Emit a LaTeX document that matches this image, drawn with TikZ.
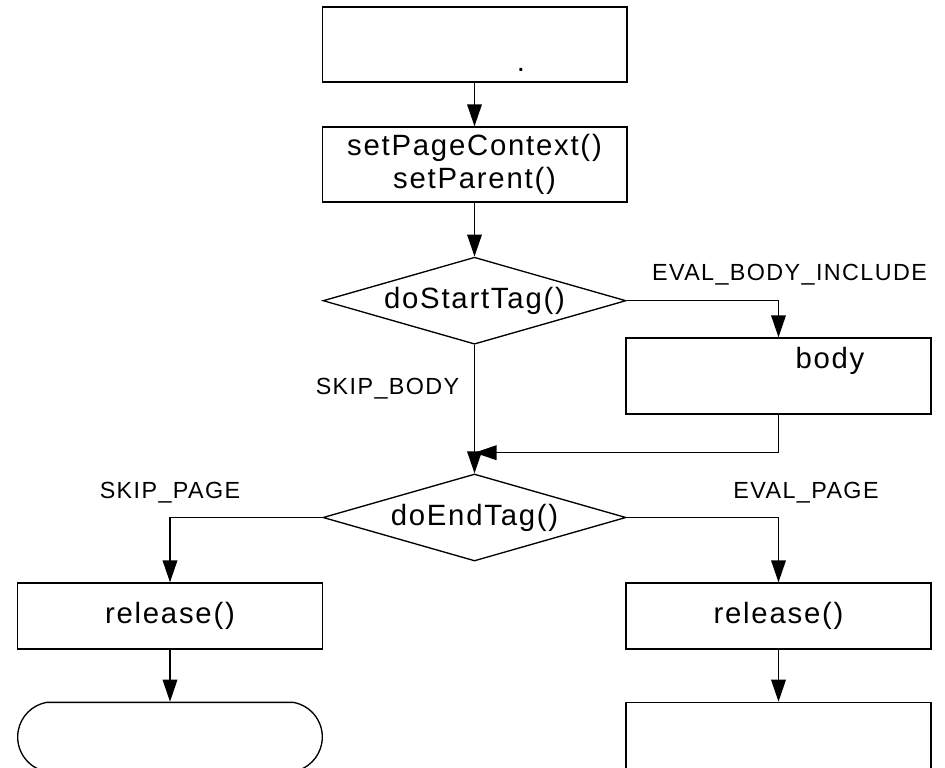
\documentclass[tikz,border=0pt]{standalone}
\usepackage{fontspec}
\setmainfont{Liberation Sans}[LetterSpace=6]
\usetikzlibrary{arrows.meta,shapes.geometric,shapes.misc}

\begin{document}
\begin{tikzpicture}[x=0.75pt,y=0.75pt,yscale=-1,xscale=1,
  proc/.style={draw,line width=1pt,rectangle,inner sep=0pt,minimum width=228.5pt,minimum height=56.25pt,font=\fontsize{22}{25}\selectfont,align=center},
  decide/.style={draw,line width=1pt,diamond,aspect=3.5,inner sep=0pt,minimum width=227.25pt,minimum height=65.25pt,font=\fontsize{22}{25}\selectfont},
  lbl/.style={inner sep=0pt,anchor=base,font=\fontsize{17.5}{20}\selectfont},
  arr/.style={line width=1pt,-{Triangle[length=16.5pt,width=11pt]}}]
\useasboundingbox (0,0) rectangle (945,767);
\clip (0,0) rectangle (945,767);

%Flowchart: Process
\node [proc] (newtag) at (474.5,44.5) {};
\node [proc] (ctx) at (474.5,164.5) {setPageContext()\\setParent()};
%Flowchart: Decision
\node [decide] (start) at (474.5,300.7) {doStartTag()};
\node [proc,minimum width=228.75pt,minimum height=57pt] (body) at (778.5,376) {};
\coordinate (merge) at (474.5,452.7);
\node [decide] (endtag) at (474.5,517.5) {doEndTag()};
\node [proc,minimum height=49.5pt] (relskip) at (170,616) {release()};
\node [proc,minimum width=228.75pt,minimum height=49.5pt] (releval) at (778.5,616) {release()};
%Flowchart: Terminal
\node [proc,rounded rectangle,rounded rectangle arc length=160,minimum height=52pt] (term) at (170,737) {};
\node [proc,minimum width=228.75pt,minimum height=52pt] (next) at (778.5,737) {};

%Straight Lines
\draw [arr] (newtag) -- (ctx);
\draw [arr] (ctx) -- (start);
\draw [arr] (start.east) -| (body.north);
\draw [arr] (body.south) |- (merge);
\draw [arr] (start.south) -- (endtag.north);
\draw [arr] (endtag.west) -| (relskip.north);
\draw [arr] (endtag.east) -| (releval.north);
\draw [arr] (relskip) -- (term);
\draw [arr] (releval) -- (next);

% Text Node
\node [lbl,font=\fontsize{22}{25}\selectfont] (dot) at (521,72) {.};
\node [lbl,font=\fontsize{22}{25}\selectfont] (bodytxt) at (830,368) {body};
\node [lbl] (evalbody) at (789.5,280.7) {EVAL\_BODY\_INCLUDE};
\node [lbl] (skipbody) at (387.5,394) {SKIP\_BODY};
\node [lbl] (skippage) at (170,498) {SKIP\_PAGE};
\node [lbl] (evalpage) at (806,498) {EVAL\_PAGE};

\end{tikzpicture}
\end{document}
